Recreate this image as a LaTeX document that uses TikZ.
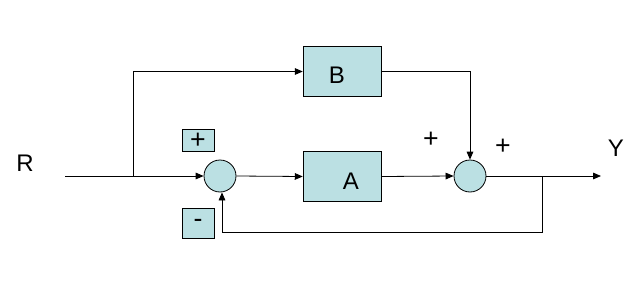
\documentclass[tikz,border=0pt]{standalone}
\usepackage{fontspec}
\setmainfont{Liberation Sans}
\usetikzlibrary{arrows.meta}
\definecolor{blockfill}{RGB}{187,224,227}
\tikzset{
  block/.style={draw, fill=blockfill, minimum width=59pt, minimum height=37pt, inner sep=0pt},
  sumnode/.style={circle, draw, fill=blockfill, minimum size=24pt, inner sep=0pt},
  signbox/.style={draw, fill=blockfill, minimum width=24pt, inner sep=0pt},
  sig/.style={-{Triangle[length=6pt,width=5pt]}},
  lbl/.style={font=\fontsize{18}{20}\selectfont},
  sgn/.style={font=\fontsize{20}{22}\selectfont},
}
\begin{document}
\begin{tikzpicture}[x=0.75pt,y=-0.75pt,line width=0.6pt]
  \useasboundingbox (0,0) rectangle (633,300);
  % blocks
  \node[block] (b) at (342.5,71.5) {};
  \node[block] (a) at (342.5,176.5) {};
  \node[lbl] (blabel) at (337,75) {B};
  \node[lbl] (alabel) at (351,181) {A};
  \node[sumnode] (s1) at (220,176) {};
  \node[sumnode] (s2) at (470,176) {};
  % sign boxes
  \node[signbox, minimum height=17pt, sgn] (plusbox) at (198,140.5) {+};
  \node[signbox, minimum height=23pt, sgn] (minusbox) at (198,223.5) {-};
  \node[sgn] (p1) at (431,140) {+};
  \node[sgn] (p2) at (503,147) {+};
  % inputs and outputs
  \node[lbl] (r) at (25,163) {R};
  \node[lbl] (y) at (616,148) {Y};
  \coordinate (in) at (65,176);
  \coordinate (split) at (133,176);
  \coordinate (take) at (542,176);
  \coordinate (out) at (601,176);
  \coordinate (fb) at (222,232);
  % signal lines
  \draw (in) -- (split);
  \draw[sig] (split) -- (s1.west);
  \draw[sig] (split) |- (b.west);
  \draw[sig] (s1.east) -- (a.west);
  \draw[sig] (a.east) -- (s2.west);
  \draw[sig] (b.east) -| (s2.north);
  \draw[sig] (s2.east) -- (out);
  \draw[sig] (take) |- (fb) -- (fb |- s1.south);
\end{tikzpicture}
\end{document}
